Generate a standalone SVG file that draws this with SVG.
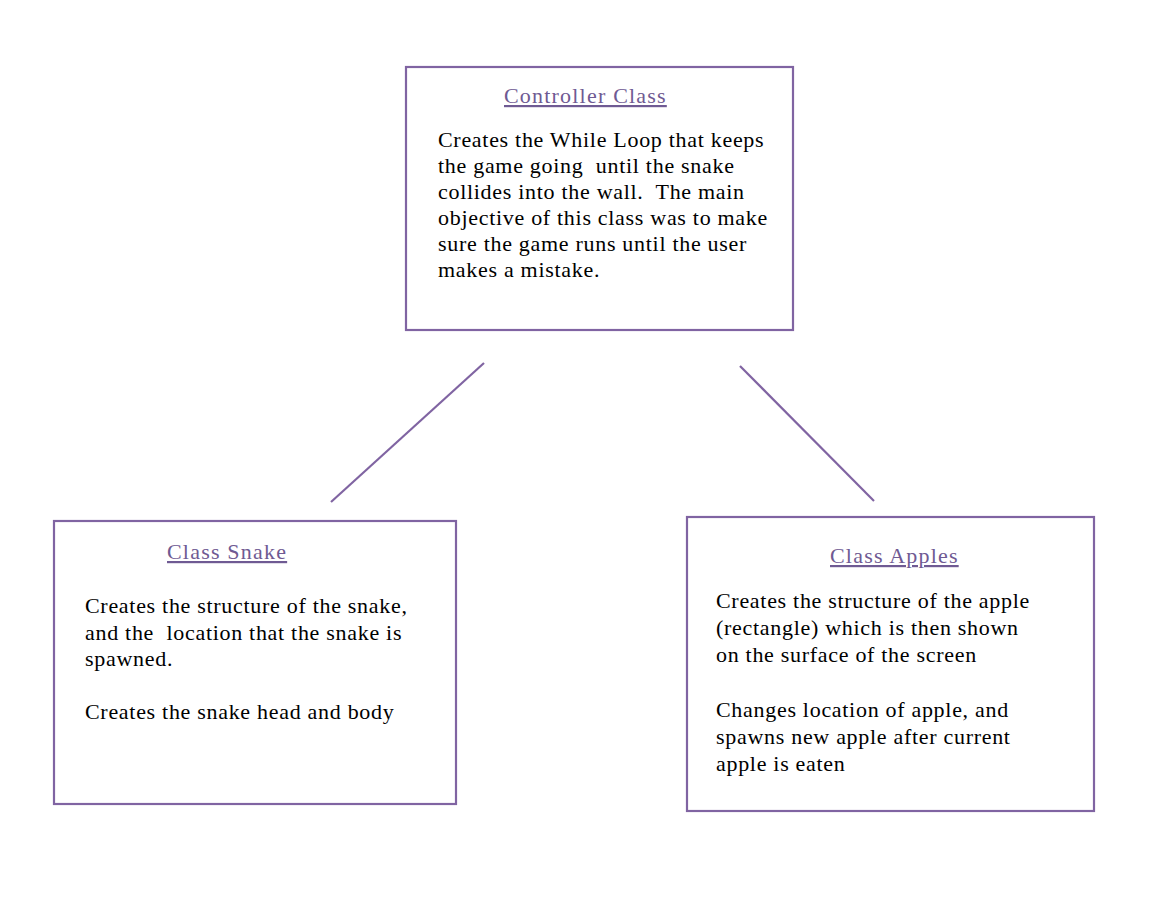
<svg xmlns="http://www.w3.org/2000/svg" width="1152" height="902" viewBox="0 0 1152 902">
<style>
.box{fill:#fff;stroke:#8064a2;stroke-width:2.2}
.t{font-family:"Liberation Serif",serif;font-size:22px;letter-spacing:0.7px;fill:#000}
.h{font-family:"Liberation Serif",serif;font-size:22px;letter-spacing:1.2px;fill:#6f5a93;text-decoration:underline}
.c{stroke:#8064a2;stroke-width:2.2;fill:none}
</style>
<rect width="1152" height="902" fill="#fff"/>
<g id="connectors">
<line class="c" x1="484" y1="363" x2="331" y2="502"/>
<line class="c" x1="740" y1="366" x2="874" y2="501"/>
</g>
<g id="controller">
<rect class="box" x="406" y="67" width="387" height="263"/>
<text class="h" x="504" y="103">Controller Class</text>
<text class="t" x="438" y="147">Creates the While Loop that keeps</text>
<text class="t" x="438" y="173" xml:space="preserve">the game going  until the snake</text>
<text class="t" x="438" y="199" xml:space="preserve">collides into the wall.  The main</text>
<text class="t" x="438" y="225">objective of this class was to make</text>
<text class="t" x="438" y="251">sure the game runs until the user</text>
<text class="t" x="438" y="277">makes a mistake.</text>
</g>
<g id="snake">
<rect class="box" x="54" y="521" width="402" height="283"/>
<text class="h" x="167" y="559">Class Snake</text>
<text class="t" x="85" y="613">Creates the structure of the snake,</text>
<text class="t" x="85" y="640" xml:space="preserve">and the  location that the snake is</text>
<text class="t" x="85" y="666">spawned.</text>
<text class="t" x="85" y="719">Creates the snake head and body</text>
</g>
<g id="apples">
<rect class="box" x="687" y="517" width="407" height="294"/>
<text class="h" x="830" y="563">Class Apples</text>
<text class="t" x="716" y="608">Creates the structure of the apple</text>
<text class="t" x="716" y="635">(rectangle) which is then shown</text>
<text class="t" x="716" y="662">on the surface of the screen</text>
<text class="t" x="716" y="717">Changes location of apple, and</text>
<text class="t" x="716" y="744">spawns new apple after current</text>
<text class="t" x="716" y="771">apple is eaten</text>
</g>
</svg>
